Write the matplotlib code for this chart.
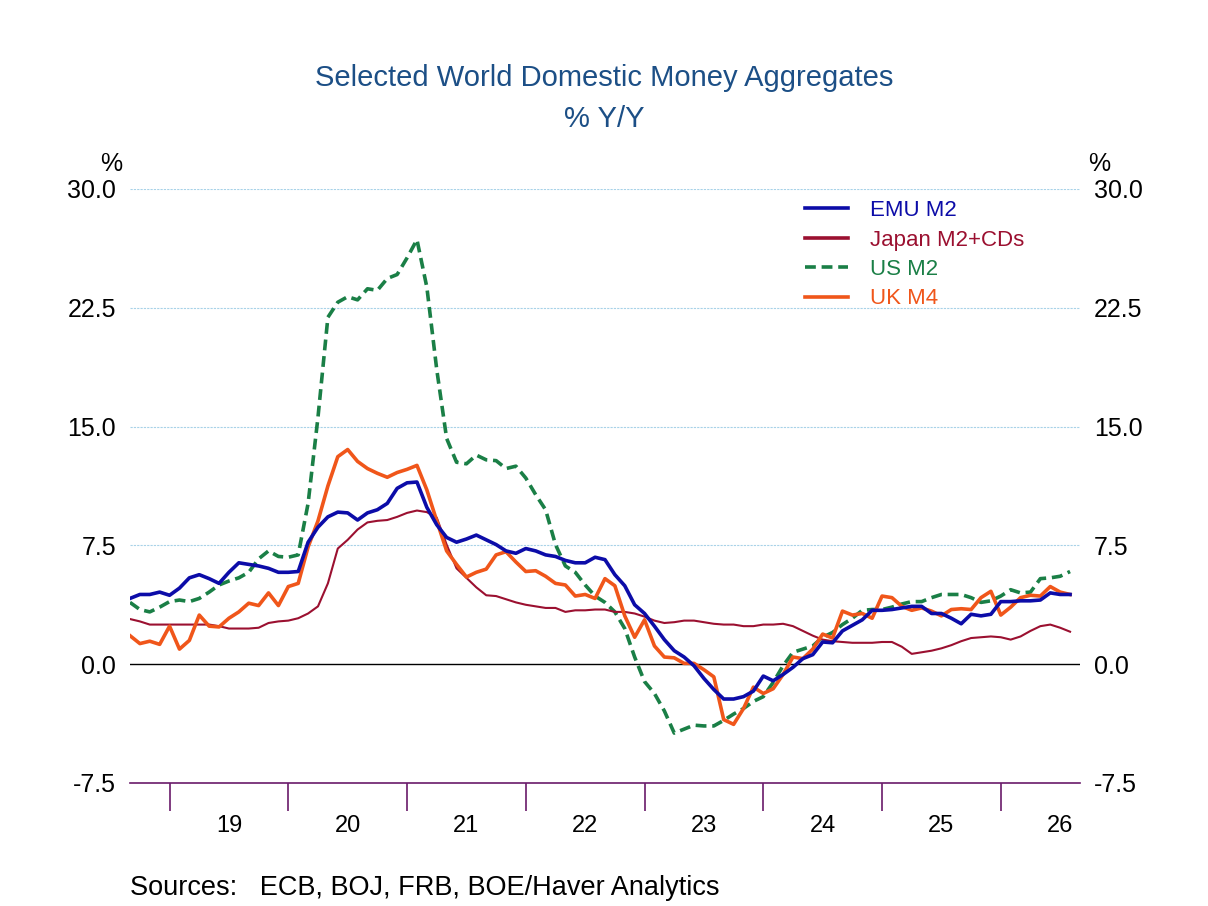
import matplotlib
matplotlib.use('Agg')
import matplotlib.pyplot as plt
import numpy as np

plt.rcParams['font.family'] = ['Liberation Sans', 'DejaVu Sans']

# monthly values, first point ~Sep 2018
emu_m2 = [4.15, 4.4, 4.4, 4.55, 4.35, 4.8, 5.45, 5.65, 5.4, 5.1, 5.8, 6.4,
          6.3, 6.2, 6.05, 5.8, 5.8, 5.85, 7.7, 8.65, 9.3, 9.6, 9.55, 9.1,
          9.55, 9.75, 10.15, 11.1, 11.45, 11.5, 9.9, 8.8, 8.0, 7.7, 7.9, 8.15,
          7.85, 7.55, 7.15, 7.0, 7.3, 7.15, 6.9, 6.8, 6.55, 6.4, 6.4, 6.75,
          6.6, 5.65, 4.95, 3.75, 3.2, 2.4, 1.55, 0.85, 0.45, -0.1, -0.9, -1.6,
          -2.2, -2.2, -2.05, -1.7, -0.75, -1.05, -0.65, -0.2, 0.35, 0.6, 1.4, 1.35,
          2.1, 2.45, 2.8, 3.4, 3.4, 3.45, 3.55, 3.65, 3.65, 3.2, 3.2, 2.9,
          2.55, 3.15, 3.05, 3.15, 3.95, 3.95, 4.0, 4.0, 4.05, 4.5, 4.4, 4.4]
japan_m2 = [2.85, 2.7, 2.5, 2.5, 2.5, 2.5, 2.5, 2.5, 2.5, 2.4, 2.25, 2.25,
            2.25, 2.3, 2.6, 2.7, 2.75, 2.9, 3.2, 3.65, 5.1, 7.3, 7.85, 8.5,
            8.95, 9.05, 9.1, 9.3, 9.55, 9.7, 9.6, 9.25, 7.55, 6.05, 5.45, 4.85,
            4.35, 4.3, 4.1, 3.9, 3.75, 3.65, 3.55, 3.55, 3.3, 3.4, 3.4, 3.45,
            3.45, 3.3, 3.3, 3.2, 3.0, 2.75, 2.6, 2.65, 2.75, 2.75, 2.65, 2.55,
            2.5, 2.5, 2.4, 2.4, 2.5, 2.5, 2.55, 2.4, 2.1, 1.8, 1.55, 1.45,
            1.4, 1.35, 1.35, 1.35, 1.4, 1.4, 1.1, 0.65, 0.75, 0.85, 1.0, 1.2,
            1.45, 1.65, 1.7, 1.75, 1.7, 1.55, 1.75, 2.1, 2.4, 2.5, 2.3, 2.05]
us_m2 = [3.9, 3.45, 3.3, 3.6, 3.95, 4.05, 3.95, 4.15, 4.55, 5.0, 5.25, 5.45,
         5.8, 6.65, 7.15, 6.8, 6.75, 6.9, 10.15, 15.6, 21.9, 22.85, 23.2, 23.0,
         23.7, 23.6, 24.35, 24.6, 25.65, 26.8, 23.8, 18.6, 14.25, 12.75, 12.65, 13.2,
         12.9, 12.85, 12.35, 12.5, 11.75, 10.7, 9.75, 7.55, 6.2, 5.8, 5.0, 4.3,
         3.9, 3.3, 2.25, 0.45, -1.1, -1.85, -2.95, -4.35, -4.1, -3.85, -3.9, -3.9,
         -3.55, -3.15, -2.8, -2.35, -2.05, -1.15, -0.1, 0.75, 0.95, 1.15, 1.7, 2.0,
         2.5, 2.9, 3.4, 3.45, 3.45, 3.6, 3.8, 3.95, 3.95, 4.2, 4.4, 4.4,
         4.4, 4.2, 3.9, 4.0, 4.3, 4.7, 4.5, 4.55, 5.4, 5.45, 5.55, 5.85]
uk_m4 = [1.8, 1.3, 1.45, 1.25, 2.4, 0.95, 1.5, 3.1, 2.4, 2.35, 2.9, 3.3,
         3.85, 3.7, 4.5, 3.7, 4.9, 5.1, 7.4, 9.05, 11.25, 13.1, 13.55, 12.8,
         12.35, 12.05, 11.8, 12.1, 12.3, 12.55, 11.0, 9.05, 7.15, 6.3, 5.5, 5.8,
         6.0, 6.9, 7.1, 6.45, 5.85, 5.9, 5.55, 5.1, 5.0, 4.3, 4.4, 4.15,
         5.4, 4.95, 3.05, 1.7, 2.8, 1.15, 0.45, 0.4, 0.05, 0.05, -0.35, -0.8,
         -3.5, -3.8, -2.8, -1.45, -1.85, -1.55, -0.65, 0.45, 0.35, 0.95, 1.9, 1.65,
         3.35, 3.1, 3.2, 2.9, 4.3, 4.2, 3.65, 3.4, 3.55, 3.35, 3.05, 3.45,
         3.5, 3.45, 4.2, 4.6, 3.1, 3.6, 4.2, 4.35, 4.3, 4.9, 4.55, 4.4]

year_labels = ['19', '20', '21', '22', '23', '24', '25', '26']
y_ticks = [-7.5, 0.0, 7.5, 15.0, 22.5, 30.0]

months = np.arange(len(emu_m2))

fig = plt.figure(figsize=(12.08, 9.06), dpi=100)
ax = fig.add_axes([0.1076, 0.1358, 0.7864, 0.6556])

ax.plot(months, us_m2, color='#1a7f46', lw=2.6, ls=(0, (3, 1.6)), label='US M2', zorder=3)
ax.plot(months, japan_m2, color='#9b1030', lw=1.5, label='Japan M2+CDs', zorder=4)
ax.plot(months, uk_m4, color='#f0561a', lw=2.6, label='UK M4', zorder=5)
ax.plot(months, emu_m2, color='#0c0ca8', lw=2.6, label='EMU M2', zorder=6)

ax.set_xlim(0, 96)
ax.set_ylim(-7.5, 30)
for v in y_ticks[2:]:
    ax.axhline(v, color='#a8d2e8', lw=0.8, ls=(0, (2, 1)), zorder=1)
ax.axhline(0, color='black', lw=1, zorder=2)

for s in ['top', 'left', 'right']:
    ax.spines[s].set_visible(False)
ax.spines['bottom'].set_color('#6a1a6a')
ax.spines['bottom'].set_linewidth(1.2)

ax.set_yticks(y_ticks)
ax.set_yticklabels([f'{v:.1f}' for v in y_ticks])
ax.tick_params(axis='y', length=0, labelsize=18, pad=10, labelright=True)

tick_pos = [4 + 12 * k for k in range(8)]
ax.set_xticks(tick_pos)
ax.set_xticklabels([])
ax.tick_params(axis='x', direction='out', length=20, width=1.2, color='#6a1a6a')
for k, lab in enumerate(year_labels):
    ax.text(10 + 12 * k, -10.2, lab, ha='center', va='center', fontsize=17)

ax.text(-0.02, 1.03, '%', transform=ax.transAxes, fontsize=18, ha='center')
ax.text(1.02, 1.03, '%', transform=ax.transAxes, fontsize=18, ha='center')

handles, labels = ax.get_legend_handles_labels()
order = [3, 1, 0, 2]
leg = ax.legend([handles[i] for i in order], [labels[i] for i in order],
                loc='upper left', bbox_to_anchor=(0.69, 1.015), frameon=False,
                fontsize=16, handlelength=1.9, handletextpad=1.0, labelspacing=0.38)
for txt, h in zip(leg.get_texts(), leg.legend_handles):
    txt.set_color(h.get_color())
    h.set_linewidth(2.6)

fig.text(0.5, 0.905, 'Selected World Domestic Money Aggregates', ha='center',
         fontsize=21, color='#1c4f86')
fig.text(0.5, 0.86, '% Y/Y', ha='center', fontsize=21, color='#1c4f86')
fig.text(0.108, 0.012, 'Sources:   ECB, BOJ, FRB, BOE/Haver Analytics', fontsize=19.5)

fig.savefig('out.png', dpi=100)
